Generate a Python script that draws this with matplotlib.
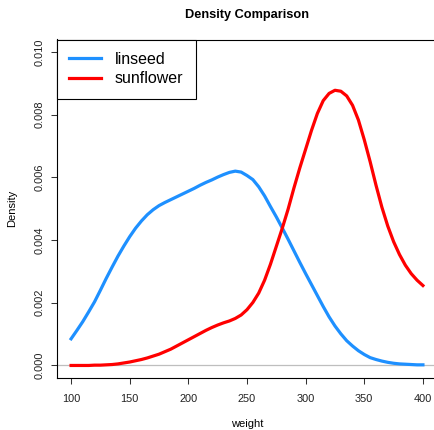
import matplotlib
matplotlib.use("Agg")
import matplotlib.pyplot as plt

plt.rcParams['font.family'] = ['Liberation Sans', 'DejaVu Sans']

# Evaluation grid for the density curves (chick weight, grams)
weight = list(range(100, 401, 5))

# Kernel density of weight for the linseed group
linseed = [
    0.00085, 0.00112, 0.00140, 0.00171, 0.00203, 0.00240, 0.00278, 0.00314,
    0.00349, 0.00381, 0.00411, 0.00438, 0.00461, 0.00481, 0.00497, 0.00510,
    0.00520, 0.00529, 0.00538, 0.00547, 0.00556, 0.00565, 0.00575, 0.00584,
    0.00592, 0.00601, 0.00609, 0.00616, 0.00620, 0.00617, 0.00606, 0.00593,
    0.00570, 0.00541, 0.00507, 0.00474, 0.00439, 0.00403, 0.00366, 0.00329,
    0.00293, 0.00258, 0.00223, 0.00188, 0.00155, 0.00126, 0.00101, 0.00079,
    0.00062, 0.00047, 0.00035, 0.00025, 0.00019, 0.00014, 0.00010, 0.00007,
    0.00005, 0.00004, 0.00003, 0.00002, 0.00002,
]

# Kernel density of weight for the sunflower group
sunflower = [
    0.00000, 0.00000, 0.00000, 0.00000, 0.00001, 0.00001, 0.00002, 0.00003,
    0.00005, 0.00008, 0.00011, 0.00015, 0.00019, 0.00024, 0.00030, 0.00036,
    0.00044, 0.00052, 0.00062, 0.00072, 0.00082, 0.00092, 0.00102, 0.00112,
    0.00121, 0.00129, 0.00136, 0.00142, 0.00150, 0.00161, 0.00178, 0.00201,
    0.00231, 0.00272, 0.00323, 0.00380, 0.00437, 0.00498, 0.00566, 0.00630,
    0.00690, 0.00750, 0.00804, 0.00845, 0.00868, 0.00878, 0.00875, 0.00860,
    0.00830, 0.00783, 0.00720, 0.00650, 0.00575, 0.00505, 0.00445, 0.00395,
    0.00354, 0.00320, 0.00293, 0.00272, 0.00255,
]

x_ticks = [100, 150, 200, 250, 300, 350, 400]
y_ticks = [0.000, 0.002, 0.004, 0.006, 0.008, 0.010]
y_tick_labels = ["0.000", "0.002", "0.004", "0.006", "0.008", "0.010"]

W, H = 435, 430
fig = plt.figure(figsize=(W / 100, H / 100), dpi=100)
fig.patch.set_facecolor("white")

# plot region (right border sits just past the canvas edge)
left_px, right_px, top_px, bottom_px = 57, 437, 39.5, 378
ax = fig.add_axes([left_px / W, (H - bottom_px) / H,
                   (right_px - left_px) / W, (bottom_px - top_px) / H])

ax.axhline(0, color="#BEBEBE", lw=0.9, zorder=1)
ax.plot(weight, linseed, color="#1E90FF", lw=2.3, label="linseed", zorder=2)
ax.plot(weight, sunflower, color="#FF0000", lw=2.3, label="sunflower", zorder=3)

ax.set_xlim(88, 412)
ax.set_ylim(-0.0004, 0.0104)

ax.set_xticks(x_ticks)
ax.set_xticklabels([str(v) for v in x_ticks])
ax.set_yticks(y_ticks)
ax.set_yticklabels(y_tick_labels, rotation=90, va="center")

ax.tick_params(axis="both", direction="out", length=4.3, width=0.75,
               color="#333333", labelsize=7.9, labelcolor="#222222")
ax.tick_params(axis="x", pad=7.2)
ax.tick_params(axis="y", pad=4.6)

for s in ax.spines.values():
    s.set_linewidth(0.8)
    s.set_color("black")

ax.set_title("Density Comparison", fontsize=9.2, fontweight="bold", pad=15.5)
ax.set_xlabel("weight", fontsize=8, labelpad=10.5)
ax.set_ylabel("Density", fontsize=8, labelpad=12.5)

leg = ax.legend(loc="upper left", bbox_to_anchor=(0, 1), borderaxespad=0,
                fancybox=False, framealpha=1, edgecolor="black",
                fontsize=11.5, handlelength=2.0, handletextpad=0.85,
                labelspacing=0.27, borderpad=0.78)
leg.get_frame().set_linewidth(0.8)

fig.savefig("out.png", dpi=100, facecolor="white")
